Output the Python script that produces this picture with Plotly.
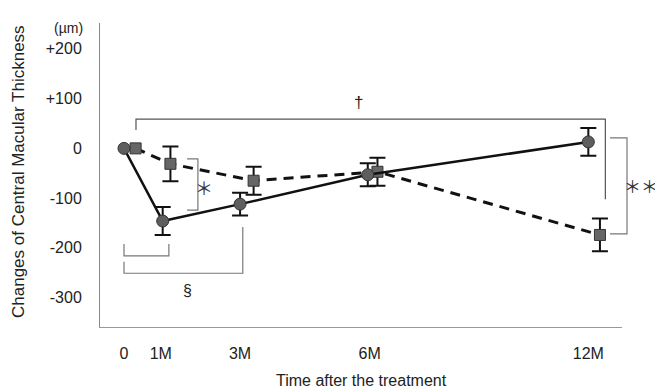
import plotly.graph_objects as go

# ---- data ----
circle_x = [0, 1, 3, 6.3, 12]
circle_mean = [0, -146, -112, -53, 13]
circle_err = [0, 28, 23, 23, 28]

square_x = [0.3, 1.2, 3.35, 6.55, 12.3]
square_mean = [0, -31, -65, -47, -174]
square_err = [0, 35, 28, 28, 33]

x_tick_vals = [0, 0.95, 3, 6.35, 12]
x_tick_text = ["0", "1M", "3M", "6M", "12M"]
y_tick_vals = [200, 100, 0, -100, -200, -300]
y_tick_text = ["+200", "+100", "0", "-100", "-200", "-300"]

FONT = "Liberation Sans, Arial, sans-serif"
X_RANGE = [-0.62, 12.87]
Y_RANGE = [-359, 252]

fig = go.Figure()

# error bars (points after baseline)
fig.add_trace(go.Scatter(
    x=circle_x[1:], y=circle_mean[1:], mode="markers",
    marker=dict(size=1, color="rgba(0,0,0,0)"),
    error_y=dict(type="data", array=circle_err[1:], color="#111", thickness=2, width=8),
    showlegend=False, hoverinfo="skip"))
fig.add_trace(go.Scatter(
    x=square_x[1:], y=square_mean[1:], mode="markers",
    marker=dict(size=1, color="rgba(0,0,0,0)"),
    error_y=dict(type="data", array=square_err[1:], color="#111", thickness=2, width=8),
    showlegend=False, hoverinfo="skip"))

# dashed series (squares)
fig.add_trace(go.Scatter(
    x=square_x, y=square_mean, mode="lines+markers",
    line=dict(color="#111", width=3, dash="10px,7px"),
    marker=dict(symbol="square", size=11, color="#666", line=dict(color="#333", width=1)),
    showlegend=False))
# solid series (circles)
fig.add_trace(go.Scatter(
    x=circle_x, y=circle_mean, mode="lines+markers",
    line=dict(color="#111", width=2.5),
    marker=dict(symbol="circle", size=12, color="#5e5e5e", line=dict(color="#333", width=1)),
    showlegend=False))

# page has an 8px body margin: plot area spans page px 100..622 (x), 23..327 (y)
def px2paper(px):
    return (px - 100) / 522.0
def py2paper(py):
    return (327 - py) / 304.0

shapes = []
def bracket(pts, xref="x", yref="y", color="#777", width=1.2):
    path = "M " + " L ".join(f"{px},{py}" for px, py in pts)
    shapes.append(dict(type="path", path=path, xref=xref, yref=yref,
                       line=dict(color=color, width=width)))

# dagger bracket
bracket([(0.31, 37), (0.31, 59), (12.44, 59), (12.44, -102)], color="#555")
# asterisk bracket (1M)
bracket([(1.63, -21), (1.91, -21), (1.91, -124), (1.63, -124)])
# section brackets
bracket([(0.0, -192), (0.0, -216), (1.16, -216), (1.16, -192)])
bracket([(0.0, -228), (0.0, -251), (3.07, -251), (3.07, -158)])
# double asterisk bracket at 12M (paper x)
bracket([(px2paper(610), 21), (px2paper(627), 21), (px2paper(627), -172), (px2paper(610), -172)],
        xref="paper")

def ann(text, x, y, xref, yref, size=15, color="#222", family=FONT, **kw):
    return dict(text=text, x=x, y=y, xref=xref, yref=yref, showarrow=False,
                xanchor="center", yanchor="middle",
                font=dict(family=family, size=size, color=color), **kw)

annotations = [
    ann("†", 6.05, 92, "x", "y", size=17, color="#222"),
    ann("＊", 2.07, -77, "x", "y", size=18, color="#333", family="Noto Sans CJK JP"),
    ann("＊＊", px2paper(641), -75, "paper", "y", size=17, color="#333", family="Noto Sans CJK JP"),
    ann("§", 1.63, -285, "x", "y", size=16),
    ann("(µm)", px2paper(68), py2paper(28), "paper", "paper", size=14),
    ann("Changes of Central Macular Thickness", px2paper(18), py2paper(172),
        "paper", "paper", size=17, textangle=-90),
    ann("Time after the treatment", 0.5, py2paper(380), "paper", "paper", size=16),
]

fig.update_layout(
    width=655, height=384,
    margin=dict(l=92, r=41, t=15, b=65, autoexpand=False),
    paper_bgcolor="white", plot_bgcolor="white",
    shapes=shapes, annotations=annotations,
    font=dict(family=FONT, color="#222"),
    xaxis=dict(range=X_RANGE, showgrid=False, zeroline=False, showline=True,
               linecolor="#999", linewidth=1, ticks="", tickvals=x_tick_vals,
               ticktext=x_tick_text, tickfont=dict(size=16, color="#222"),
               ticklabelstandoff=12, automargin=False),
    yaxis=dict(range=Y_RANGE, showgrid=False, zeroline=False, showline=True,
               linecolor="#888", linewidth=1, ticks="", tickvals=y_tick_vals,
               ticktext=y_tick_text, tickfont=dict(size=16, color="#222"),
               ticklabelstandoff=14, automargin=False),
)

fig.write_html("out.html")
